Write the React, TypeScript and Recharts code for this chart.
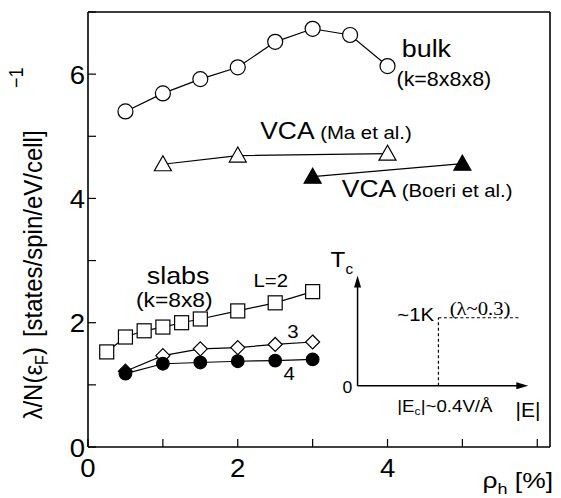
import React from 'react';
import { LineChart, Line, XAxis, YAxis, ReferenceLine, ReferenceDot, Label } from 'recharts';

const bulkX = [0.5, 1, 1.5, 2, 2.5, 3, 3.5, 4];
const bulkY = [5.4, 5.69, 5.92, 6.11, 6.52, 6.73, 6.63, 6.13];
const vcaMaX = [1, 2, 4];
const vcaMaY = [4.55, 4.69, 4.72];
const vcaBoeriX = [3, 5];
const vcaBoeriY = [4.35, 4.56];
const slabL2X = [0.25, 0.5, 0.75, 1, 1.25, 1.5, 2, 2.5, 3];
const slabL2Y = [1.53, 1.77, 1.87, 1.93, 2.0, 2.06, 2.19, 2.32, 2.5];
const slabL3X = [0.5, 1, 1.5, 2, 2.5, 3];
const slabL3Y = [1.22, 1.47, 1.58, 1.6, 1.65, 1.69];
const slabL4X = [0.5, 1, 1.5, 2, 2.5, 3];
const slabL4Y = [1.18, 1.34, 1.36, 1.38, 1.39, 1.41];

const xTicks = [0, 1, 2, 3, 4, 5, 6];
const xTickLabels = ['0', '', '2', '', '4', '', ''];
const yTicks = [0, 1, 2, 3, 4, 5, 6, 7];
const yTickLabels = ['0', '', '2', '', '4', '', '6', ''];

const zip = (xs: number[], ys: number[]) => xs.map((x, i) => ({ x, y: ys[i] }));
const bulk = zip(bulkX, bulkY);
const vcaMa = zip(vcaMaX, vcaMaY);
const vcaBoeri = zip(vcaBoeriX, vcaBoeriY);
const slabL2 = zip(slabL2X, slabL2Y);
const slabL3 = zip(slabL3X, slabL3Y);
const slabL4 = zip(slabL4X, slabL4Y);

const FONT = 'Liberation Sans, Arial, Helvetica, sans-serif';
const SERIF = 'Liberation Serif, Times New Roman, serif';
const SW = 1.2;
const SX = 1.1;

const SText = ({ x, y, size, anchor = 'start', sx = SX, family = FONT, children }: any) => (
  <text
    transform={`translate(${x},${y}) scale(${sx},1)`}
    x={0}
    y={0}
    fontSize={size}
    fontFamily={family}
    textAnchor={anchor}
    fill="#000"
  >
    {children}
  </text>
);

const openCircle = (p: any) => (
  <circle key={`oc${p.index}`} cx={p.cx} cy={p.cy} r={7.5} fill="#fff" stroke="#000" strokeWidth={SW} />
);
const filledCircle = (p: any) => (
  <circle key={`fc${p.index}`} cx={p.cx} cy={p.cy} r={6.3} fill="#000" stroke="#000" strokeWidth={SW} />
);
const triangle = (fill: string) => (p: any) => (
  <path
    key={`tr${fill}${p.index}`}
    d={`M${p.cx},${p.cy - 8.5} L${p.cx - 8.5},${p.cy + 6.5} L${p.cx + 8.5},${p.cy + 6.5} Z`}
    fill={fill}
    stroke="#000"
    strokeWidth={SW}
  />
);
const square = (p: any) => (
  <rect key={`sq${p.index}`} x={p.cx - 7} y={p.cy - 7} width={14} height={14} fill="#fff" stroke="#000" strokeWidth={SW} />
);
const diamond = (p: any) => (
  <path
    key={`dm${p.index}`}
    d={`M${p.cx},${p.cy - 7} L${p.cx + 7},${p.cy} L${p.cx},${p.cy + 7} L${p.cx - 7},${p.cy} Z`}
    fill={p.index === 0 ? '#000' : '#fff'}
    stroke="#000"
    strokeWidth={SW}
  />
);

const textShape = (content: React.ReactNode, size: number, anchor: string = 'start', family: string = FONT, sx: number = SX) => (p: any) => (
  <SText x={p.cx} y={p.cy} size={size} anchor={anchor} family={family} sx={sx}>
    {content}
  </SText>
);

const XTick = (p: any) => {
  const label = xTickLabels[xTicks.indexOf(p.payload.value)] ?? '';
  if (!label) return <g />;
  return (
    <SText x={p.x} y={p.y + 21} size={25} anchor="middle">
      {label}
    </SText>
  );
};
const YTick = (p: any) => {
  const label = yTickLabels[yTicks.indexOf(p.payload.value)] ?? '';
  if (!label) return <g />;
  return (
    <SText x={p.x} y={p.y + 9.5} size={25} anchor="end">
      {label}
    </SText>
  );
};

const YLabel = () => (
  <g>
    <text
      transform={`translate(42,275) scale(${SX},1) rotate(-90)`}
      x={0}
      y={0}
      textAnchor="middle"
      fontSize={24}
      fontFamily={FONT}
      fill="#000"
    >
      λ/N(ε
      <tspan fontSize={16} dy={5}>F</tspan>
      <tspan dy={-5}>)</tspan>
      <tspan dx={10}>[states/spin/eV/cell]</tspan>
    </text>
    <text
      transform={`translate(23,88) scale(${SX},1) rotate(-90)`}
      x={0}
      y={0}
      textAnchor="start"
      fontSize={18}
      fontFamily={FONT}
      fill="#000"
    >
      −1
    </text>
  </g>
);

const XLabel = () => (
  <SText x={553} y={488} size={22} anchor="end" sx={1.2}>
    ρ<tspan fontSize={15} dy={6}>h</tspan>
    <tspan dy={-6}> [%]</tspan>
  </SText>
);

const upArrow = (p: any) => (
  <path d={`M${p.cx},${p.cy} L${p.cx - 3.5},${p.cy + 12} L${p.cx + 3.5},${p.cy + 12} Z`} fill="#000" />
);
const rightArrow = (p: any) => (
  <path d={`M${p.cx},${p.cy} L${p.cx - 12},${p.cy - 3.5} L${p.cx - 12},${p.cy + 3.5} Z`} fill="#000" />
);

export default function App() {
  return (
    <div style={{ position: 'absolute', left: 0, top: 0 }}>
      <LineChart width={561} height={498} margin={{ top: 11, right: 10, bottom: 21, left: 28 }}>
        <XAxis
          dataKey="x"
          type="number"
          domain={[0, 6.17]}
          ticks={xTicks}
          allowDataOverflow
          tickSize={-8}
          tickMargin={17}
          height={30}
          axisLine={{ stroke: '#000', strokeWidth: 1.6 }}
          tickLine={{ stroke: '#000', strokeWidth: 1.2 }}
          tick={XTick}
        >
          <Label content={XLabel} />
        </XAxis>
        <XAxis
          xAxisId="top"
          orientation="top"
          type="number"
          domain={[0, 6.17]}
          ticks={xTicks}
          allowDataOverflow
          tick={false}
          tickSize={-8}
          height={1}
          axisLine={{ stroke: '#000', strokeWidth: 1.6 }}
          tickLine={{ stroke: '#000', strokeWidth: 1.2 }}
        />
        <YAxis
          type="number"
          domain={[0, 7]}
          ticks={yTicks}
          allowDataOverflow
          tickSize={-8}
          tickMargin={11}
          width={60}
          axisLine={{ stroke: '#000', strokeWidth: 1.6 }}
          tickLine={{ stroke: '#000', strokeWidth: 1.2 }}
          tick={YTick}
        >
          <Label content={YLabel} />
        </YAxis>
        <YAxis
          yAxisId="right"
          orientation="right"
          type="number"
          domain={[0, 7]}
          ticks={yTicks}
          allowDataOverflow
          tick={false}
          tickSize={-8}
          width={1}
          axisLine={{ stroke: '#000', strokeWidth: 1.6 }}
          tickLine={{ stroke: '#000', strokeWidth: 1.2 }}
        />

        {/* inset */}
        <ReferenceLine segment={[{ x: 3.6, y: 0.984 }, { x: 3.6, y: 2.6 }]} stroke="#000" strokeWidth={1.5} />
        <ReferenceLine segment={[{ x: 3.6, y: 0.984 }, { x: 5.75, y: 0.984 }]} stroke="#000" strokeWidth={1.5} />
        <ReferenceDot x={3.6} y={2.76} r={0} shape={upArrow} />
        <ReferenceDot x={5.88} y={0.984} r={0} shape={rightArrow} />
        <ReferenceLine segment={[{ x: 4.68, y: 2.08 }, { x: 5.78, y: 2.08 }]} stroke="#000" strokeWidth={1.2} strokeDasharray="3 2.5" />
        <ReferenceLine segment={[{ x: 4.68, y: 0.984 }, { x: 4.68, y: 2.08 }]} stroke="#000" strokeWidth={1.2} strokeDasharray="3 2.5" />
        <ReferenceDot x={3.24} y={2.89} r={0} shape={textShape(<>T<tspan fontSize={14} dy={7}>c</tspan></>, 22)} />
        <ReferenceDot x={3.53} y={0.87} r={0} shape={textShape('0', 16, 'end')} />
        <ReferenceDot x={4.13} y={2.02} r={0} shape={textShape('~1K', 18.5)} />
        <ReferenceDot x={4.83} y={2.13} r={0} shape={textShape('(λ~0.3)', 18, 'start', SERIF, 1.15)} />
        <ReferenceDot x={4.13} y={0.565} r={0} shape={textShape(<>|E<tspan fontSize={11} dy={3}>c</tspan><tspan dy={-3}>|~0.4V/Å</tspan></>, 17)} />
        <ReferenceDot x={5.71} y={0.48} r={0} shape={textShape('|E|', 21, 'start', FONT, 1.0)} />

        {/* annotations */}
        <ReferenceDot x={4.19} y={6.27} r={0} shape={textShape('bulk', 24, 'start', FONT, 1.12)} />
        <ReferenceDot x={4.12} y={5.81} r={0} shape={textShape('(k=8x8x8)', 19.5)} />
        <ReferenceDot x={2.3} y={4.95} r={0} shape={textShape(<>VCA<tspan fontSize={18.5}> (Ma et al.)</tspan></>, 24)} />
        <ReferenceDot x={3.39} y={4.02} r={0} shape={textShape(<>VCA<tspan fontSize={18.5}> (Boeri et al.)</tspan></>, 24)} />
        <ReferenceDot x={0.785} y={2.63} r={0} shape={textShape('slabs', 24, 'start', FONT, 1.12)} />
        <ReferenceDot x={0.64} y={2.26} r={0} shape={textShape('(k=8x8)', 19.5, 'start', FONT, 1.17)} />
        <ReferenceDot x={2.21} y={2.58} r={0} shape={textShape('L=2', 18.5)} />
        <ReferenceDot x={2.66} y={1.75} r={0} shape={textShape('3', 18.5)} />
        <ReferenceDot x={2.61} y={1.08} r={0} shape={textShape('4', 18.5)} />

        <Line data={bulk} dataKey="y" stroke="#000" strokeWidth={SW} dot={openCircle} activeDot={false} isAnimationActive={false} />
        <Line data={vcaMa} dataKey="y" stroke="#000" strokeWidth={SW} dot={triangle('#fff')} activeDot={false} isAnimationActive={false} />
        <Line data={vcaBoeri} dataKey="y" stroke="#000" strokeWidth={SW} dot={triangle('#000')} activeDot={false} isAnimationActive={false} />
        <Line data={slabL2} dataKey="y" stroke="#000" strokeWidth={SW} dot={square} activeDot={false} isAnimationActive={false} />
        <Line data={slabL3} dataKey="y" stroke="#000" strokeWidth={SW} dot={diamond} activeDot={false} isAnimationActive={false} />
        <Line data={slabL4} dataKey="y" stroke="#000" strokeWidth={SW} dot={filledCircle} activeDot={false} isAnimationActive={false} />
      </LineChart>
    </div>
  );
}
